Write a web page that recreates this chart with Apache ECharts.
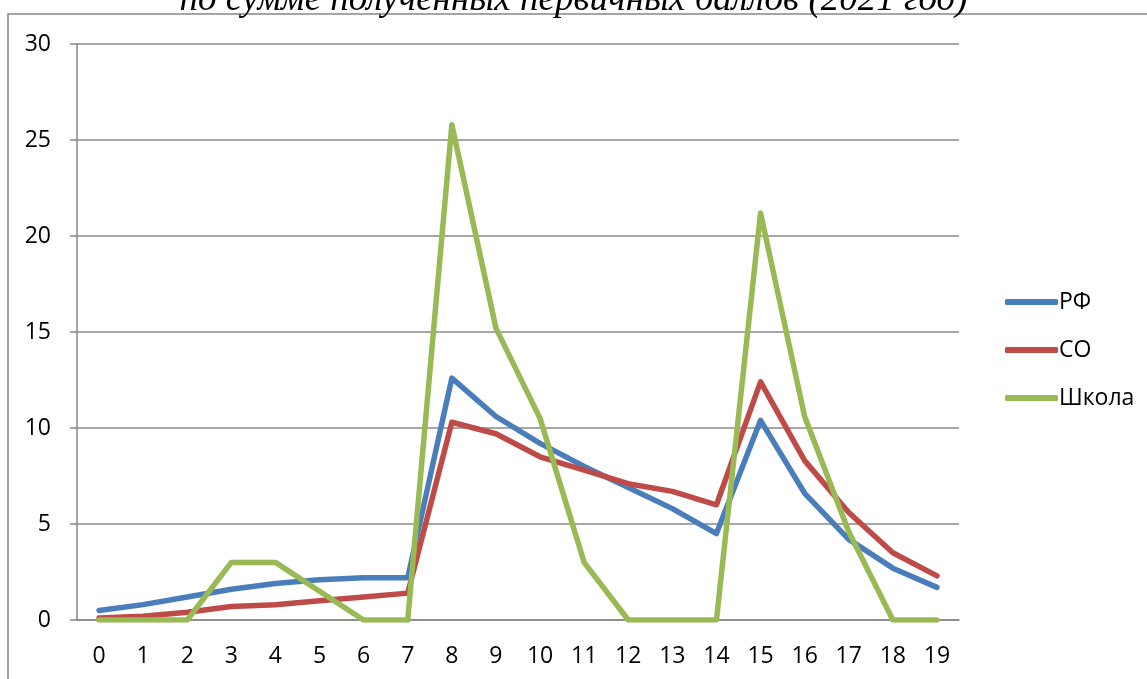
<!DOCTYPE html>
<html><head><meta charset="utf-8">
<script src="https://cdn.jsdelivr.net/npm/echarts@6/dist/echarts.min.js"></script>
<style>html,body{margin:0;padding:0;background:#fff}#c{width:1147px;height:679px}</style>
</head><body><div id="c"></div>
<script>
const categories = ['0','1','2','3','4','5','6','7','8','9','10','11','12','13','14','15','16','17','18','19'];
const rf = [0.5,0.8,1.2,1.6,1.9,2.1,2.2,2.2,12.6,10.6,9.2,8.0,6.9,5.8,4.5,10.4,6.6,4.2,2.7,1.7];
const so = [0.1,0.2,0.4,0.7,0.8,1.0,1.2,1.4,10.3,9.7,8.5,7.8,7.1,6.7,6.0,12.4,8.3,5.6,3.5,2.3];
const school = [0,0,0,3,3,1.5,0,0,25.8,15.2,10.5,3,0,0,0,21.2,10.6,4.6,0,0];
const seriesNames = ['РФ','СО','Школа'];
const colors = ['#4a7ebb','#be4b48','#98b954'];
const titleText = 'по сумме полученных первичных баллов (2021 год)';

const chart = echarts.init(document.getElementById('c'), null, {renderer:'canvas'});
const font = "'Open Sans', 'Liberation Sans', sans-serif";
chart.setOption({
  animation:false,
  backgroundColor:'#fff',
  title:{text:titleText,left:'center',top:-23,
    textStyle:{fontFamily:"'Liberation Serif','Times New Roman',serif",fontStyle:'italic',fontWeight:'normal',fontSize:37,color:'#000'}},
  graphic:[{type:'polyline',shape:{points:[[8,700],[8,14],[1160,14]]},style:{stroke:'#888',lineWidth:1.5,fill:null},silent:true}],
  legend:{orient:'vertical',left:1000,top:285,itemGap:24,itemWidth:53,itemHeight:6,
    icon:'roundRect',
    textStyle:{fontFamily:font,fontSize:23,lineHeight:24,color:'#000',padding:[0,0,0,-4]},
    data:seriesNames},
  grid:{left:77,right:188,top:44,bottom:59,containLabel:false},
  xAxis:{type:'category',data:categories,boundaryGap:true,
    axisLine:{lineStyle:{color:'#888',width:1.5}},
    axisTick:{alignWithLabel:false,interval:0,length:7,lineStyle:{color:'#888',width:1.5}},
    axisLabel:{interval:0,fontFamily:font,fontSize:23,color:'#000',margin:25}},
  yAxis:{type:'value',min:0,max:30,interval:5,
    axisLine:{show:true,lineStyle:{color:'#888',width:1.5}},
    axisTick:{show:true,length:7,lineStyle:{color:'#888',width:1.5}},
    splitLine:{lineStyle:{color:'#888',width:1.5}},
    axisLabel:{fontFamily:font,fontSize:23,color:'#000',margin:26}},
  series:[rf,so,school].map((d,i)=>({name:seriesNames[i],type:'line',data:d,symbol:'none',
    lineStyle:{color:colors[i],width:5.5,cap:'round',join:'round'},itemStyle:{color:colors[i]}}))
});
</script></body></html>
